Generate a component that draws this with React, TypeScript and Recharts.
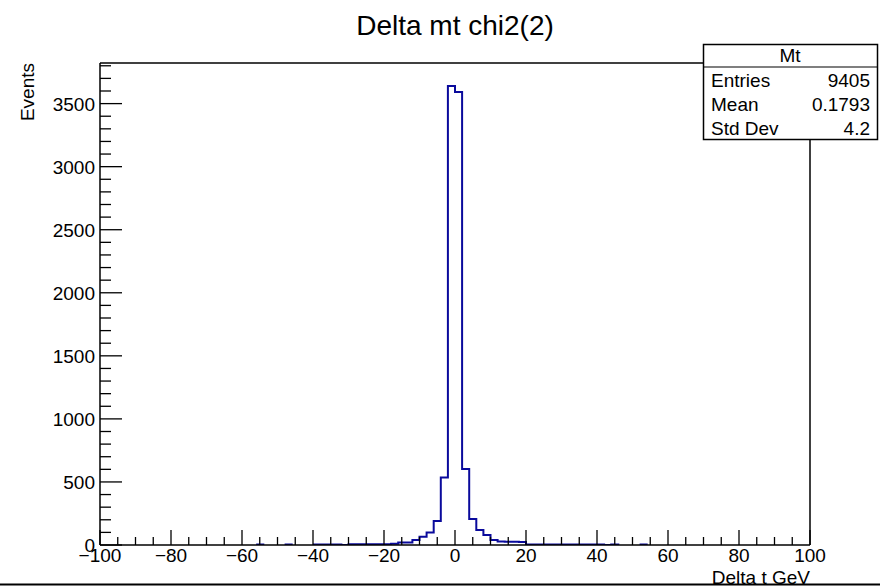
import React from 'react';
import { ComposedChart, Line, XAxis, YAxis, ReferenceLine } from 'recharts';

// histogram: 100 bins of width 2 over [-100, 100]
const binLow = -100;
const binWidth = 2;
const counts = [
  0, 0, 0, 0, 0, 0, 0, 0, 0, 0,
  0, 0, 0, 0, 0, 0, 0, 0, 0, 0,
  0, 0, 3, 0, 0, 0, 3, 0, 0, 0,
  4, 4, 4, 4, 0, 5, 5, 5, 5, 5,
  5, 10, 20, 20, 40, 66, 100, 190, 536, 3640,
  3592, 602, 206, 119, 79, 40, 28, 26, 25, 24,
  4, 4, 4, 4, 4, 4, 4, 4, 4, 4,
  4, 0, 3, 0, 0, 0, 3, 0, 0, 0,
  0, 0, 0, 0, 0, 0, 0, 0, 0, 0,
  0, 0, 0, 0, 0, 0, 0, 0, 0, 0,
];

const xMajor = [-100, -80, -60, -40, -20, 0, 20, 40, 60, 80, 100];
const yMajor = [0, 500, 1000, 1500, 2000, 2500, 3000, 3500];
const yMax = 3822;

const statLabels = ['Entries', 'Mean', 'Std Dev'];
const statValues = ['9405', '0.1793', '4.2'];

const FONT = '"Liberation Sans", Arial, Helvetica, sans-serif';
const HIST_COLOR = '#0a0a9c';

// step points at bin low edges, gaps left empty where the histogram is at zero
const histData: { edge: number; count: number | null }[] = counts.map((c, i) => ({
  edge: binLow + i * binWidth,
  count: c === 0 && (i === 0 || counts[i - 1] === 0) ? null : c,
}));
histData.push({ edge: binLow + counts.length * binWidth, count: counts[counts.length - 1] || null });

const xTicks: number[] = [];
for (let v = -100; v <= 100; v += 5) xTicks.push(v);
const yTicks: number[] = [];
for (let v = 0; v <= 3800; v += 100) yTicks.push(v);

const fmt = (v: number) => (v < 0 ? `\u2212${Math.abs(v)}` : `${v}`);

const XTick = ({ x, y, payload }: any) => {
  const major = xMajor.includes(payload.value);
  return (
    <g>
      <line x1={x} x2={x} y1={y} y2={y - (major ? 15 : 8)} stroke="#000" strokeWidth={1.3} />
      {major && (
        <text x={x} y={y + 17} textAnchor="middle" fontSize={19} fontFamily={FONT} fill="#000">
          {fmt(payload.value)}
        </text>
      )}
    </g>
  );
};

const YTick = ({ x, y, payload }: any) => {
  const major = yMajor.includes(payload.value);
  return (
    <g>
      <line x1={x} x2={x + (major ? 22 : 11)} y1={y} y2={y} stroke="#000" strokeWidth={1.3} />
      {major && (
        <text x={x - 5} y={y + 7} textAnchor="end" fontSize={19} fontFamily={FONT} fill="#000">
          {payload.value}
        </text>
      )}
    </g>
  );
};

export default function App() {
  return (
    <div style={{ position: 'absolute', left: 0, top: 0, width: 880, height: 586, background: '#fff' }}>
      <ComposedChart
        width={880}
        height={586}
        data={histData}
        margin={{ top: 63, right: 70, bottom: 11, left: 40 }}
      >
        <XAxis
          dataKey="edge"
          type="number"
          domain={[-100, 100]}
          ticks={xTicks}
          interval={0}
          tick={<XTick />}
          tickLine={false}
          tickSize={0}
          tickMargin={0}
          height={30}
          axisLine={{ stroke: '#000', strokeWidth: 1.5 }}
          allowDataOverflow
        />
        <YAxis
          type="number"
          domain={[0, yMax]}
          ticks={yTicks}
          interval={0}
          tick={<YTick />}
          tickLine={false}
          tickSize={0}
          tickMargin={0}
          width={60}
          axisLine={{ stroke: '#000', strokeWidth: 1.5 }}
          allowDataOverflow
        />
        <ReferenceLine y={yMax} stroke="#000" strokeWidth={1.5} />
        <ReferenceLine x={100} stroke="#000" strokeWidth={1.5} />
        <Line
          type="stepAfter"
          dataKey="count"
          stroke={HIST_COLOR}
          strokeWidth={2}
          dot={false}
          activeDot={false}
          isAnimationActive={false}
        />
      </ComposedChart>
      <svg
        width={880}
        height={586}
        style={{ position: 'absolute', left: 0, top: 0, pointerEvents: 'none' }}
      >
        <text x={455} y={35} textAnchor="middle" fontSize={28} fontFamily={FONT} fill="#000">
          Delta mt chi2(2)
        </text>
        <text
          transform="translate(34,63) rotate(-90)"
          textAnchor="end"
          fontSize={19}
          fontFamily={FONT}
          fill="#000"
        >
          Events
        </text>
        <text x={810} y={584} textAnchor="end" fontSize={19} fontFamily={FONT} fill="#000">
          Delta t GeV
        </text>
        <line x1={0} x2={880} y1={584.5} y2={584.5} stroke="#000" strokeWidth={2} />

        <rect x={703.5} y={44.5} width={174} height={95} fill="#fff" stroke="#000" strokeWidth={1.5} />
        <line x1={703.5} x2={877.5} y1={67} y2={67} stroke="#000" strokeWidth={1.2} />
        <text x={790} y={62} textAnchor="middle" fontSize={19} fontFamily={FONT} fill="#000">
          Mt
        </text>
        {statLabels.map((label, i) => (
          <g key={label}>
            <text x={711} y={87 + i * 24} fontSize={19} fontFamily={FONT} fill="#000">
              {label}
            </text>
            <text x={870} y={87 + i * 24} textAnchor="end" fontSize={19} fontFamily={FONT} fill="#000">
              {statValues[i]}
            </text>
          </g>
        ))}
      </svg>
    </div>
  );
}
